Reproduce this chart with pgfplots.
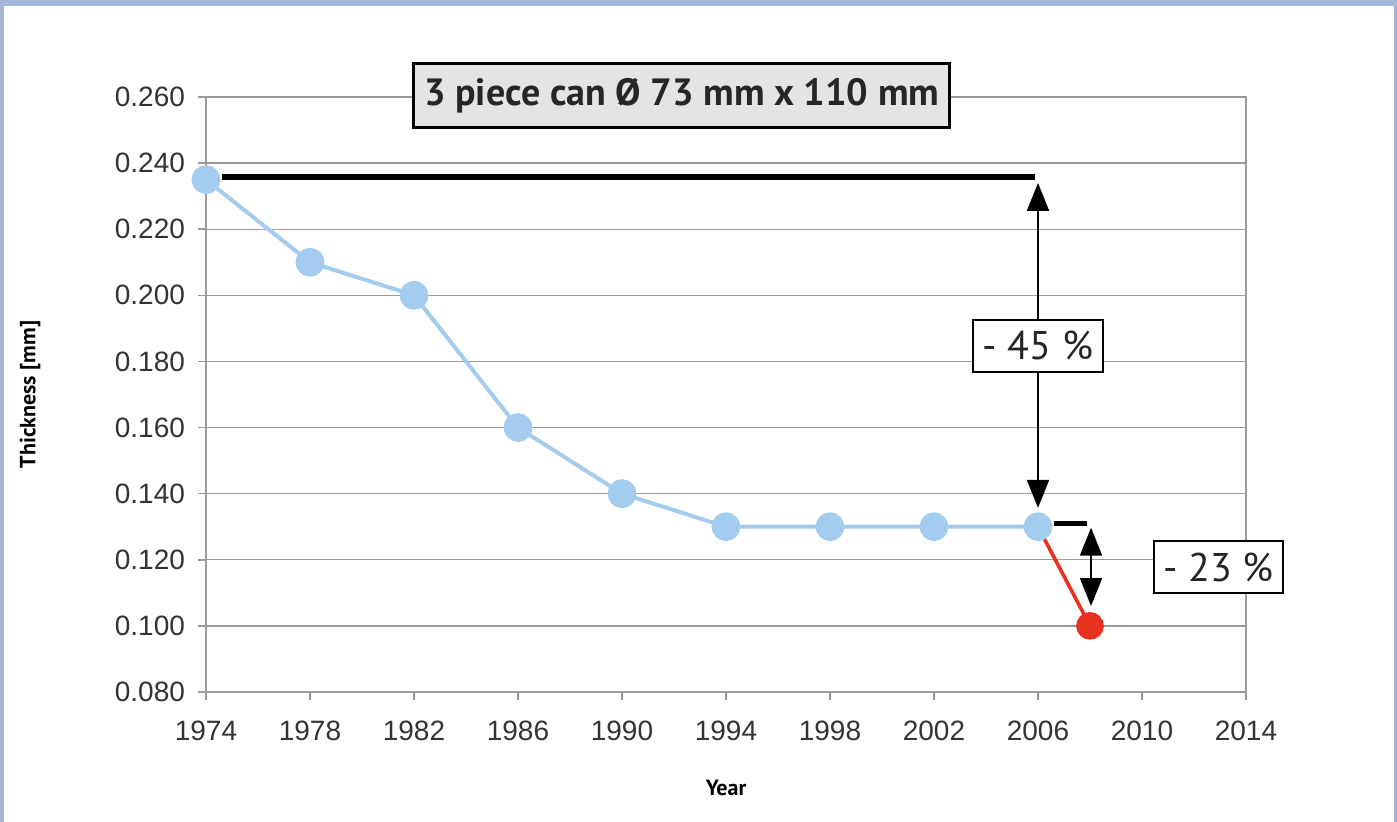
\documentclass[border=0pt]{standalone}
\usepackage{fontspec}
\setmainfont{Liberation Sans}
\newfontfamily\din{PT Sans}
\usepackage{pgfplots}
\pgfplotsset{compat=1.18}
\usetikzlibrary{arrows.meta}
\definecolor{framec}{HTML}{A3B5D6}
\definecolor{lblue}{HTML}{A3CCEE}
\definecolor{cred}{HTML}{E8321E}
\definecolor{gridc}{HTML}{9A9A9A}
\definecolor{boxg}{HTML}{E4E4E4}
\begin{document}
\begin{tikzpicture}[x=1pt,y=1pt]
\fill[framec] (0,0) rectangle (698.5,411);
\fill[white] (2,0) rectangle (697,408);
\begin{axis}[at={(103pt,65pt)}, anchor=south west, scale only axis,
  width=520pt, height=297.5pt,
  xmin=1974, xmax=2014, ymin=0.08, ymax=0.26,
  xtick={1974,1978,1982,1986,1990,1994,1998,2002,2006,2010,2014},
  ytick={0.08,0.1,0.12,0.14,0.16,0.18,0.2,0.22,0.24,0.26},
  xtick pos=bottom, ytick pos=left,
  tick align=outside, major tick length=4pt,
  axis line style={gridc, line width=0.8pt},
  ymajorgrids, major grid style={gridc, line width=0.7pt},
  tick style={gridc, line width=0.8pt},
  tick label style={font=\fontsize{14}{16}\selectfont, text=black!80},
  /pgf/number format/assume math mode=true,
  xticklabel style={yshift=-7pt, /pgf/number format/set thousands separator={}},
  yticklabel style={xshift=-3pt, /pgf/number format/.cd, fixed, fixed zerofill, precision=3},
  xlabel={\din\bfseries\fontsize{11}{13}\selectfont Year},
  ylabel={\din\bfseries\fontsize{11}{13}\selectfont Thickness [mm]},
  xlabel style={at={(axis description cs:0.5,-0.1613)}, anchor=center},
  ylabel style={at={(axis description cs:-0.1692,0.5)}, anchor=center},
  clip=false,
]
\addplot[cred, line width=1.8pt, mark=*, mark size=6pt, mark indices={2}, mark options={fill=cred, draw=cred}]
  coordinates {(2006,0.130) (2008,0.100)};
\addplot[lblue, line width=2pt, mark=*, mark size=6.2pt, mark options={fill=lblue, draw=lblue}]
  coordinates {(1974,0.235) (1978,0.210) (1982,0.200) (1986,0.160) (1990,0.140) (1994,0.130) (1998,0.130) (2002,0.130) (2006,0.130)};
\addplot[black, line width=3pt] coordinates {(1974.6,0.2357) (2005.9,0.2357)};
\addplot[black, line width=1pt, {Triangle[length=14pt,width=11pt]}-{Triangle[length=14pt,width=11pt]}]
  coordinates {(2006,0.234) (2006,0.1357)};
\addplot[black, line width=2.6pt] coordinates {(2006.6,0.1309) (2007.9,0.1309)};
\addplot[black, line width=1pt, {Triangle[length=14pt,width=11pt]}-{Triangle[length=14pt,width=11pt]}]
  coordinates {(2008.04,0.1297) (2008.04,0.106)};
\node[draw=black, fill=white, line width=1pt, minimum width=65pt, minimum height=26pt, inner sep=0pt,
  font=\din\fontsize{20}{22}\selectfont, text=black!85] at (axis cs:2006,0.1847) {- 45 \%};
\node[draw=black, fill=white, line width=1pt, minimum width=64.5pt, minimum height=26pt, inner sep=0pt,
  font=\din\fontsize{20}{22}\selectfont, text=black!85] at (axis cs:2012.94,0.1178) {- 23 \%};
\node[draw=black, fill=boxg, line width=1.5pt, minimum width=268pt, minimum height=32pt, inner sep=0pt,
  font=\din\bfseries\fontsize{19}{21}\selectfont, text=black!85] at (axis cs:1992.3,0.2603) {3 piece can Ø 73 mm x 110 mm};
\end{axis}
\end{tikzpicture}
\end{document}
